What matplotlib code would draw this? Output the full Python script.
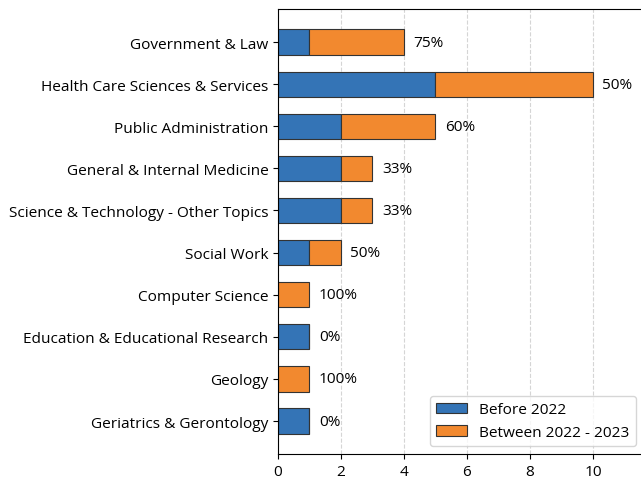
import numpy as np
from matplotlib import pyplot as plt
import matplotlib

matplotlib.rcParams['font.size'] = 11.1
matplotlib.rcParams['font.family'] = ['Open Sans', 'DejaVu Sans']

categories = [
    'Government & Law',
    'Health Care Sciences & Services',
    'Public Administration',
    'General & Internal Medicine',
    'Science & Technology - Other Topics',
    'Social Work',
    'Computer Science',
    'Education & Educational Research',
    'Geology',
    'Geriatrics & Gerontology',
]
before_2022 = [1, 5, 2, 2, 2, 1, 0, 1, 0, 1]
between_2022_2023 = [3, 5, 3, 1, 1, 1, 1, 0, 1, 0]
pct_labels = ['75%', '50%', '60%', '33%', '33%', '50%', '100%', '0%', '100%', '0%']

before = np.array(before_2022)
between = np.array(between_2022_2023)
total = before + between
y = np.arange(len(categories))

fig = plt.figure(figsize=(6.41, 4.85), dpi=100)
ax = fig.add_axes([0.4337, 0.062, 0.57, 0.917])

ax.barh(y, before, height=0.6, color='#3474b6', edgecolor='#333333',
        linewidth=0.8, label='Before 2022')
ax.barh(y, between, left=before, height=0.6, color='#f2892f',
        edgecolor='#333333', linewidth=0.8, label='Between 2022 - 2023')

for yi, t, s in zip(y, total, pct_labels):
    ax.text(t + 0.3, yi, s, va='center', ha='left')

ax.set_yticks(y)
ax.set_yticklabels(categories)
ax.invert_yaxis()
ax.set_xlim(0, 11.6)
ax.set_xticks([0, 2, 4, 6, 8, 10])
ax.grid(axis='x', linestyle='--', color='#d5d5d5', linewidth=0.8)
ax.set_axisbelow(True)
ax.spines['right'].set_visible(False)
ax.legend(loc='lower right')

plt.savefig('out.png', dpi=100)
